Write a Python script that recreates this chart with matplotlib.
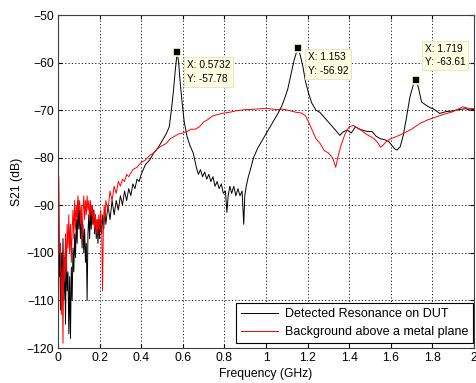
import matplotlib
matplotlib.use('Agg')
import matplotlib.pyplot as plt

plt.rcParams['font.family'] = ['Liberation Sans', 'DejaVu Sans']

# detected resonance on DUT (GHz, dB)
freq_dut = [0.000, 0.005, 0.008, 0.012, 0.016, 0.020, 0.024, 0.028, 0.032, 0.036,
            0.040, 0.044, 0.048, 0.052, 0.056, 0.060, 0.064, 0.068, 0.072, 0.076,
            0.080, 0.084, 0.088, 0.092, 0.096, 0.100, 0.104, 0.108, 0.112, 0.116,
            0.120, 0.124, 0.128, 0.132, 0.136, 0.140, 0.144, 0.148, 0.152, 0.156,
            0.160, 0.164, 0.168, 0.172, 0.176, 0.180, 0.184, 0.188, 0.192, 0.196,
            0.200, 0.205, 0.210, 0.215, 0.220, 0.225, 0.230, 0.240, 0.250, 0.260,
            0.270, 0.280, 0.290, 0.300, 0.310, 0.320, 0.330, 0.340, 0.350, 0.360,
            0.370, 0.380, 0.390, 0.400, 0.420, 0.440, 0.460, 0.480, 0.500, 0.520,
            0.535, 0.545, 0.555, 0.563, 0.5732, 0.580, 0.588, 0.597, 0.607, 0.620,
            0.635, 0.650, 0.665, 0.675, 0.685, 0.695, 0.705, 0.715, 0.725, 0.735,
            0.745, 0.755, 0.765, 0.775, 0.785, 0.795, 0.805, 0.812, 0.818, 0.826,
            0.835, 0.845, 0.855, 0.865, 0.875, 0.885, 0.893, 0.898, 0.905, 0.915,
            0.925, 0.940, 0.960, 0.980, 1.000, 1.020, 1.040, 1.060, 1.075, 1.090,
            1.105, 1.120, 1.135, 1.153, 1.165, 1.178, 1.190, 1.205, 1.220, 1.240,
            1.260, 1.280, 1.300, 1.320, 1.340, 1.355, 1.370, 1.390, 1.410, 1.430,
            1.450, 1.470, 1.490, 1.510, 1.530, 1.550, 1.570, 1.590, 1.605, 1.620,
            1.630, 1.645, 1.660, 1.676, 1.692, 1.708, 1.719, 1.732, 1.748, 1.771,
            1.790, 1.803, 1.820, 1.835, 1.850, 1.867, 1.890, 1.914, 1.940, 1.962,
            1.980, 2.000]
s21_dut = [-97, -105, -98, -112, -100, -108, -97, -110, -101, -115,
           -100, -108, -104, -117, -105, -118, -103, -110, -99, -104,
           -96, -101, -93, -98, -89, -95, -91, -97, -92, -99,
           -94, -100, -95, -102, -98, -110, -96, -92, -97, -91,
           -95, -90, -94, -91, -96, -92, -97, -93, -98, -94,
           -97, -93, -96, -92, -95, -91, -94, -90, -93, -89,
           -92, -89, -91, -88, -90, -87, -89, -86.5, -88, -85.5,
           -86.5, -84.5, -85, -83.5, -81.5, -80.5, -79, -78, -76.5, -75,
           -73.5, -70, -66, -62, -57.78, -60, -64.5, -68.5, -72.5, -75.5,
           -77.5, -79, -82, -83.5, -82.5, -84, -83, -84.5, -83.5, -85,
           -84, -86, -85, -86.5, -85.5, -87.5, -87, -91.5, -88, -86,
           -87.5, -86, -88, -86.5, -88, -87, -94, -88, -86, -84,
           -82.5, -80, -78, -76.5, -75, -73.5, -72, -70.5, -69.2, -67.5,
           -65.5, -62.5, -59.5, -56.92, -58.5, -61, -64, -66.5, -68.5, -70,
           -70.5, -71.5, -72.5, -73.5, -74.5, -75.3, -74.6, -74.2, -74.8, -73.5,
           -74, -74.3, -74.5, -74.5, -75.5, -76, -76.2, -76.6, -77.4, -78.2,
           -78.4, -77.7, -75.3, -71.4, -67.2, -64.7, -63.61, -65.1, -68.3, -69,
           -69.5, -69.7, -70.2, -70.7, -70.5, -70.3, -70.2, -70, -69.8, -69.7,
           -70, -69.8]

# background above a metal plane (GHz, dB)
freq_bg = [0.000, 0.004, 0.008, 0.012, 0.016, 0.020, 0.024, 0.028, 0.032, 0.036,
           0.040, 0.044, 0.048, 0.052, 0.056, 0.060, 0.064, 0.068, 0.072, 0.076,
           0.080, 0.084, 0.088, 0.092, 0.096, 0.100, 0.104, 0.108, 0.112, 0.116,
           0.120, 0.124, 0.128, 0.132, 0.136, 0.140, 0.144, 0.148, 0.152, 0.156,
           0.160, 0.164, 0.168, 0.172, 0.176, 0.180, 0.184, 0.188, 0.192, 0.196,
           0.200, 0.205, 0.210, 0.214, 0.218, 0.222, 0.226, 0.230, 0.240, 0.250,
           0.260, 0.270, 0.280, 0.290, 0.300, 0.310, 0.320, 0.330, 0.340, 0.360,
           0.380, 0.400, 0.420, 0.440, 0.460, 0.480, 0.500, 0.520, 0.540, 0.560,
           0.580, 0.600, 0.620, 0.640, 0.660, 0.680, 0.700, 0.720, 0.740, 0.760,
           0.780, 0.800, 0.830, 0.860, 0.900, 0.950, 1.000, 1.050, 1.080, 1.105,
           1.140, 1.170, 1.190, 1.205, 1.220, 1.240, 1.260, 1.280, 1.300, 1.320,
           1.335, 1.345, 1.360, 1.380, 1.400, 1.420, 1.440, 1.460, 1.480, 1.500,
           1.520, 1.540, 1.550, 1.560, 1.580, 1.600, 1.630, 1.660, 1.700, 1.740,
           1.780, 1.820, 1.860, 1.900, 1.946, 1.970, 2.000]
s21_bg = [-95, -84, -100, -98, -113, -103, -119, -100, -106, -96,
          -104, -94, -99, -92, -100, -94, -102, -95, -91, -97,
          -89, -95, -90, -93, -88, -91, -89, -94, -90, -98,
          -91, -88, -93, -89, -92, -88, -91, -89, -93, -89,
          -92, -90, -94, -91, -95, -92, -96, -93, -96, -92,
          -95, -91, -94, -108, -95, -90, -93, -89, -91, -87,
          -89, -86, -87.5, -85, -86, -84.5, -85, -83.5, -84, -82.5,
          -82, -81, -80.5, -79.5, -79, -78, -77.5, -77, -76, -75.5,
          -75, -74.8, -74.5, -74, -74, -73.5, -72.5, -72, -71.3, -71,
          -70.8, -70.6, -70.4, -70.1, -69.9, -69.8, -69.6, -69.9, -69.8, -70,
          -70.4, -70.6, -71.2, -72.5, -74, -76, -77, -78.5, -79, -80,
          -82, -80, -77.5, -75, -73.5, -73.2, -73.8, -74.3, -75, -75.5,
          -76, -77, -77.8, -77.5, -76.5, -76, -75.5, -74.9, -74, -72.8,
          -72, -71.4, -70.8, -70.3, -69.3, -69.6, -69.7]

# data tips
tip_x = [0.5732, 1.153, 1.719]
tip_y = [-57.78, -56.92, -63.61]
tip_labels = ['X: 0.5732\nY: -57.78', 'X: 1.153\nY: -56.92', 'X: 1.719\nY: -63.61']
tip_offsets = [(7, -6), (7, -3), (6.5, 9)]
tip_va = ['top', 'top', 'bottom']

fig = plt.figure(figsize=(4.77, 3.83), dpi=100)
ax = fig.add_axes([58 / 477, 35 / 383, 416 / 477, 333 / 383])

ax.plot(freq_dut, s21_dut, color='black', lw=0.7, label='Detected Resonance on DUT')
ax.plot(freq_bg, s21_bg, color='red', lw=0.7, label='Background above a metal plane')

ax.set_xlim(0, 2)
ax.set_ylim(-120, -50)
ax.set_xticks([0, 0.2, 0.4, 0.6, 0.8, 1, 1.2, 1.4, 1.6, 1.8, 2])
ax.set_xticklabels(['0', '0.2', '0.4', '0.6', '0.8', '1', '1.2', '1.4', '1.6', '1.8', '2'])
ax.set_yticks(range(-120, -49, 10))
ax.grid(True, color='black', linestyle=(0, (1.5, 2.5)), linewidth=0.6)
ax.tick_params(direction='in', top=True, right=True, labelsize=8.7, length=3, pad=3)
for s in ax.spines.values():
    s.set_color('#404040')
    s.set_linewidth(0.8)

ax.set_xlabel('Frequency (GHz)', fontsize=8.7, labelpad=3)
ax.set_ylabel('S21 (dB)', fontsize=8.7, labelpad=2)

for x, y, lab, off, va in zip(tip_x, tip_y, tip_labels, tip_offsets, tip_va):
    ax.plot(x, y, marker='s', ms=5.5, mfc='black', mec='#ffffd8', mew=1.2, zorder=5)
    ax.annotate(lab, xy=(x, y), xytext=off, textcoords='offset points',
                ha='left', va=va, fontsize=7.3, linespacing=1.45, zorder=6,
                bbox=dict(boxstyle='square,pad=0.3', fc='#ffffe3', ec='#e6e6c8', lw=0.8))

leg = ax.legend(loc='lower right', bbox_to_anchor=(415 / 416, 5 / 333), fontsize=9,
                frameon=True, fancybox=False, edgecolor='black', framealpha=1,
                handlelength=3.0, borderpad=0.4, labelspacing=0.45, handletextpad=0.5,
                borderaxespad=0)
leg.get_frame().set_linewidth(0.8)

fig.savefig('out.png', dpi=100)
